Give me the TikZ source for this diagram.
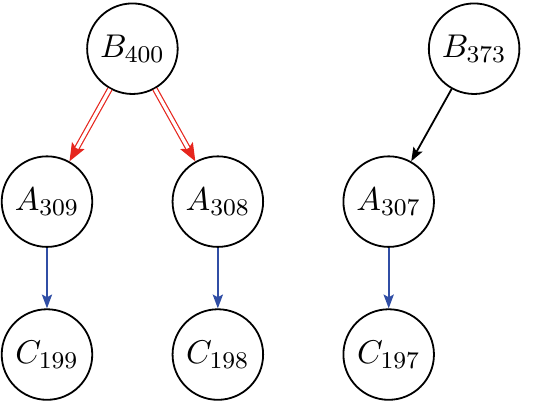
\documentclass[tikz,border=0pt]{standalone}
\usetikzlibrary{arrows.meta}
\definecolor{redarc}{RGB}{230,38,30}
\definecolor{bluearc}{RGB}{48,78,165}
\begin{document}
\begin{tikzpicture}
        \tikzstyle{every node}=[draw,shape=circle,line width=0.6pt,minimum size=1.06cm,inner sep=0pt,font=\fontsize{11.3pt}{13pt}\selectfont];
        \tikzstyle{tip}=[-{Stealth[length=4.6pt,width=3.4pt,inset=0.9pt]}];
        \tikzstyle{redtip}=[redarc,line width=0.4pt,-{Stealth[length=6pt,width=4.8pt,inset=1.2pt]}];
        \tikzstyle{twoline}=[redarc,line width=0.4pt,double,double distance=1.1pt,shorten >=5pt];
        \useasboundingbox (-0.55,0.57) rectangle (5.865,-4.15);
        %\node (name) at (x,y) {text};
        \node (b400) at (1,0) {$B_{400}$};
        \node (b373) at (5,0) {$B_{373}$};
        \node (a309) at (0,-1.79) {$A_{309}$};
        \node (a308) at (2,-1.79) {$A_{308}$};
        \node (a307) at (4,-1.79) {$A_{307}$};
        \node (c199) at (0,-3.58) {$C_{199}$};
        \node (c198) at (2,-3.58) {$C_{198}$};
        \node (c197) at (4,-3.58) {$C_{197}$};
        % red double arcs: tip first, then the double line over it
        \draw[redtip] (b400)--(a309);
        \draw[twoline] (b400)--(a309);
        \draw[redtip] (b400)--(a308);
        \draw[twoline] (b400)--(a308);
        \draw[tip,line width=0.6pt] (b373)--(a307);
        \draw[tip,bluearc,line width=0.6pt] (a309)--(c199);
        \draw[tip,bluearc,line width=0.6pt] (a308)--(c198);
        \draw[tip,bluearc,line width=0.6pt] (a307)--(c197);
    \end{tikzpicture}
\end{document}
